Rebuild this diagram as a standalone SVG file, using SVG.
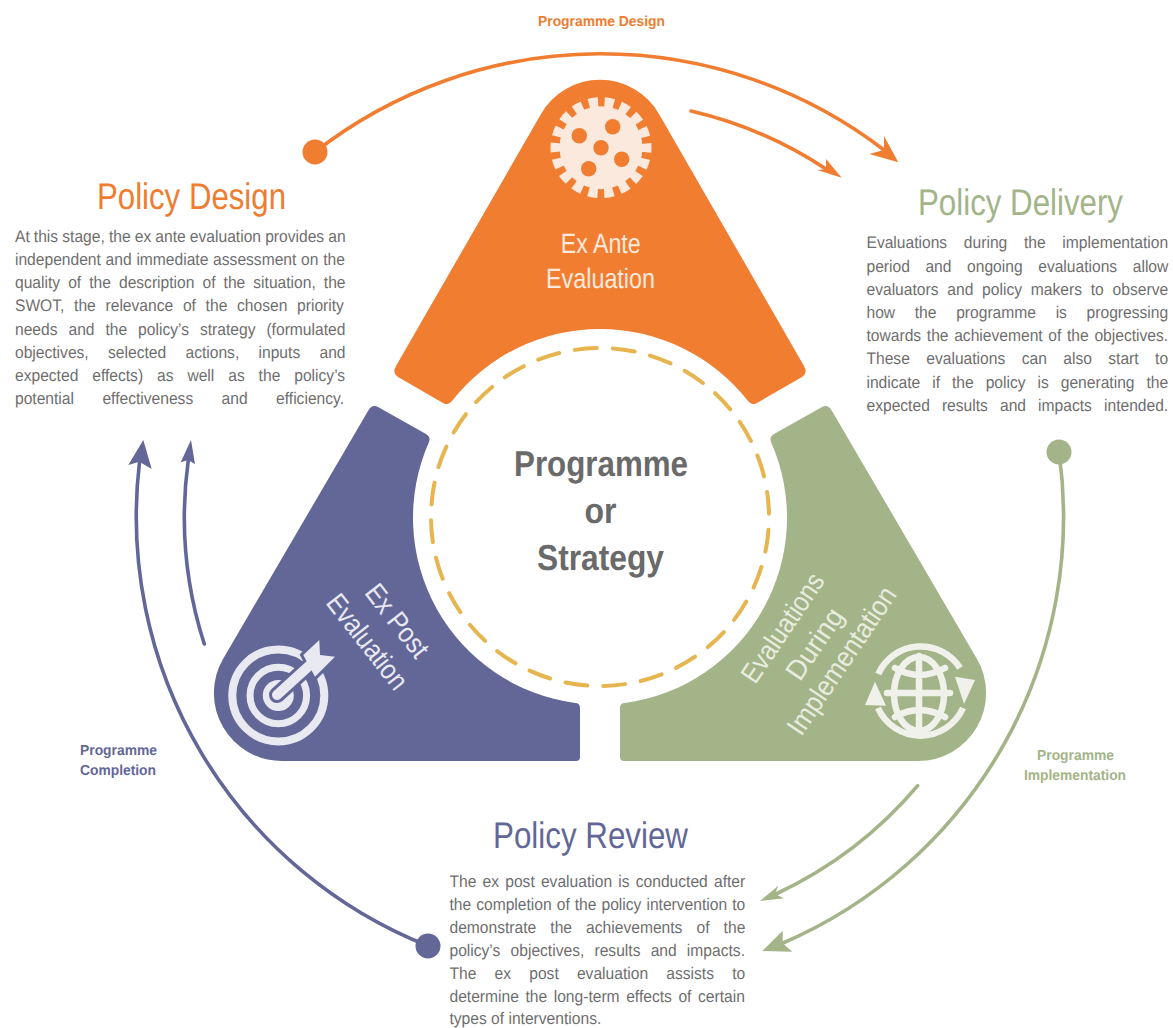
<svg xmlns="http://www.w3.org/2000/svg" width="1173" height="1028" viewBox="0 0 1173 1028">
<style>
text{font-family:"Liberation Sans",Arial,sans-serif;text-rendering:geometricPrecision}
.o{fill:#f17d31}.p{fill:#636798}.g{fill:#a3b488}
.so{stroke:#f17d31}.sp{stroke:#636798}.sg{stroke:#a3b488}
.l{fill:none;stroke-width:3.6;stroke-linecap:round}
.t{font-size:37px}
.b{font-size:16.8px;fill:#6e6e6e}
.c{font-size:36px;font-weight:bold;fill:#6a6a6a;text-anchor:middle}
.s{font-size:14.5px;font-weight:bold}
.n{font-size:28px;text-anchor:middle}
</style>
<rect width="1173" height="1028" fill="#fff"/>
<g id="connectors">
<path class="l so" d="M315 152A465 465 0 0 1 884 150"/>
<polygon class="o" points="898.3,162.3 884,136 884,150 869.3,154"/>
<path class="l so" d="M691 111A416 416 0 0 1 826 169"/>
<polygon class="o" points="841.7,177.7 826,159 826,169.3 817.3,170"/>
<circle class="o" cx="315" cy="152" r="12.5"/>
<path class="l sg" d="M1059 452A464 464 0 0 1 783 943"/>
<polygon class="g" points="762.3,951 782.7,930.7 782.7,943.3 792.3,951.7"/>
<path class="l sg" d="M917.7 785.7A416 416 0 0 1 776 894"/>
<polygon class="g" points="760,901 778.3,885.7 775,894 784,898.3"/>
<circle class="g" cx="1059" cy="452" r="12.5"/>
<path class="l sp" d="M428 946A462 462 0 0 1 139.5 462"/>
<polygon class="p" points="143.3,440 128.3,465 139.3,461.7 151.7,469"/>
<path class="l sp" d="M204.3 644A416 416 0 0 1 188.3 460"/>
<polygon class="p" points="191,440 180.7,462.3 188.3,460 195,464.3"/>
<circle class="p" cx="428" cy="946" r="12.5"/>
</g>
<g id="node-ex-ante">
<path class="o" d="M541 114L396 366Q392 373 398 377L443 403Q448 406 452 401A188 188 0 0 1 748 401Q752 406 757 403L802 377Q808 373 804 366L659 114A68 68 0 0 0 541 114Z"/>
<circle cx="601" cy="147.7" r="41.5" fill="#fbe9dd"/>
<circle cx="601" cy="147.7" r="45.5" fill="none" stroke="#fbe9dd" stroke-width="10" stroke-dasharray="9.3 6.58" stroke-dashoffset="4.65"/>
<g class="o"><circle cx="579.3" cy="135.7" r="7.7"/><circle cx="612.7" cy="126.7" r="7.7"/><circle cx="601" cy="147.7" r="7.7"/><circle cx="621.7" cy="159.3" r="7.7"/><circle cx="588.7" cy="168.7" r="7.7"/></g>
<text class="n" fill="#fbe9dd" x="600.7" y="253" textLength="80" lengthAdjust="spacingAndGlyphs">Ex Ante</text>
<text class="n" fill="#fbe9dd" x="600.5" y="288" textLength="109" lengthAdjust="spacingAndGlyphs">Evaluation</text>
</g>
<g id="node-ex-post">
<path class="p" d="M368 411Q372 404 378 407L426 434Q431 437 429 442A187 187 0 0 0 575 703Q580 703 580 708L580 757Q580 761 576 761L282 761A68 68 0 0 1 223 659Z"/>
<g fill="none" stroke="#e9e9f2"><circle cx="278.3" cy="695.5" r="46" stroke-width="8"/><circle cx="278.3" cy="695.5" r="28.3" stroke-width="7"/></g>
<circle cx="278.3" cy="695.5" r="15.5" fill="#e9e9f2"/>
<line x1="277" y1="695" x2="310" y2="665" stroke="#636798" stroke-width="16" stroke-linecap="round"/>
<polygon points="303.3,655 319.3,640 320,655 335,656.7 315,676.7" fill="#636798" stroke="#636798" stroke-width="6"/>
<line x1="277" y1="695" x2="310" y2="665" stroke="#e9e9f2" stroke-width="10" stroke-linecap="round"/>
<polygon points="303.3,655 319.3,640 320,655 335,656.7 315,676.7" fill="#e9e9f2"/>
<text class="n" fill="#e9e9f2" transform="translate(397 621) rotate(52)" y="9" textLength="85" lengthAdjust="spacingAndGlyphs">Ex Post</text>
<text class="n" fill="#e9e9f2" transform="translate(367 642) rotate(52)" y="9" textLength="113" lengthAdjust="spacingAndGlyphs">Evaluation</text>
</g>
<g id="node-during">
<path class="g" d="M832 411Q828 404 822 407L774 434Q769 437 771 442A187 187 0 0 1 625 703Q620 703 620 708L620 757Q620 761 624 761L918 761A68 68 0 0 0 977 659Z"/>
<g fill="none" stroke="#eff1ea" stroke-width="6.5" stroke-linecap="round">
<path d="M878.3 674A46.5 46.5 0 0 1 960 668" stroke-linecap="butt"/>
<path d="M963 708A46.5 46.5 0 0 1 878 708" stroke-linecap="butt"/>
<ellipse cx="919" cy="694" rx="25" ry="37"/>
<path d="M919 656V732M887 693H950M895 668Q919 682 945 668M895 717Q919 703 945 717"/>
</g>
<polygon fill="#eff1ea" points="955,676.7 975,680 964,704"/>
<polygon fill="#eff1ea" points="865,705 886,705.7 875,681.7"/>
<text class="n" fill="#e8ecdf" transform="translate(783 628) rotate(-56)" y="9" textLength="126" lengthAdjust="spacingAndGlyphs">Evaluations</text>
<text class="n" fill="#e8ecdf" transform="translate(815 644) rotate(-56)" y="9" textLength="80" lengthAdjust="spacingAndGlyphs">During</text>
<text class="n" fill="#e8ecdf" transform="translate(842 661) rotate(-56)" y="9" textLength="172" lengthAdjust="spacingAndGlyphs">Implementation</text>
</g>
<g id="node-centre">
<circle cx="600" cy="517" r="169" fill="none" stroke="#e6b550" stroke-width="4" stroke-linecap="round" stroke-dasharray="22 15.9" transform="rotate(-98.5 600 517)"/>
<text class="c" x="601" y="476" textLength="174" lengthAdjust="spacingAndGlyphs">Programme</text>
<text class="c" x="600.5" y="523" textLength="32" lengthAdjust="spacingAndGlyphs">or</text>
<text class="c" x="600.5" y="570" textLength="127" lengthAdjust="spacingAndGlyphs">Strategy</text>
</g>
<g id="label-programme-design"><text class="s" fill="#ed7d31" x="538" y="26" textLength="127" lengthAdjust="spacingAndGlyphs">Programme Design</text></g>
<g id="label-programme-completion">
<text class="s" fill="#636798" x="80" y="755" textLength="77" lengthAdjust="spacingAndGlyphs">Programme</text>
<text class="s" fill="#636798" x="80" y="775" textLength="76" lengthAdjust="spacingAndGlyphs">Completion</text>
</g>
<g id="label-programme-implementation">
<text class="s" fill="#a3b488" x="1037" y="760" textLength="77" lengthAdjust="spacingAndGlyphs">Programme</text>
<text class="s" fill="#a3b488" x="1024" y="780" textLength="102" lengthAdjust="spacingAndGlyphs">Implementation</text>
</g>
<g id="policy-design">
<text class="t" fill="#ed7d31" x="97" y="209" textLength="189" lengthAdjust="spacingAndGlyphs">Policy Design</text>
<g transform="scale(.93 1)">
<text class="b" x="16.1" y="241.7" word-spacing="-.22">At this stage, the ex ante evaluation provides an</text>
<text class="b" x="16.1" y="264.9" word-spacing=".42">independent and immediate assessment on the</text>
<text class="b" x="16.1" y="288.1" word-spacing="4">quality of the description of the situation, the</text>
<text class="b" x="16.1" y="311.3" word-spacing="5.78">SWOT, the relevance of the chosen priority</text>
<text class="b" x="16.1" y="334.5" word-spacing="7.12">needs and the policy’s strategy (formulated</text>
<text class="b" x="16.1" y="357.7" word-spacing="16.1">objectives, selected actions, inputs and</text>
<text class="b" x="16.1" y="380.9" word-spacing="10.3">expected effects) as well as the policy’s</text>
<text class="b" x="16.1" y="404.1" word-spacing="25.9">potential effectiveness and efficiency.</text>
</g>
</g>
<g id="policy-delivery">
<text class="t" fill="#a3b488" x="918" y="215" textLength="205" lengthAdjust="spacingAndGlyphs">Policy Delivery</text>
<g transform="scale(.93 1)">
<text class="b" x="931.7" y="248.3" word-spacing="13.3">Evaluations during the implementation</text>
<text class="b" x="931.7" y="271.5" word-spacing="12.1">period and ongoing evaluations allow</text>
<text class="b" x="931.7" y="294.7" word-spacing="4.8">evaluators and policy makers to observe</text>
<text class="b" x="931.7" y="317.9" word-spacing="16.5">how the programme is progressing</text>
<text class="b" x="931.7" y="341.1" word-spacing="1.44">towards the achievement of the objectives.</text>
<text class="b" x="931.7" y="364.3" word-spacing="13">These evaluations can also start to</text>
<text class="b" x="931.7" y="387.5" word-spacing="8.2">indicate if the policy is generating the</text>
<text class="b" x="931.7" y="410.7" word-spacing="8.35">expected results and impacts intended.</text>
</g>
</g>
<g id="policy-review">
<text class="t" fill="#636798" x="493" y="848" textLength="195" lengthAdjust="spacingAndGlyphs">Policy Review</text>
<g transform="scale(.93 1)">
<text class="b" x="483.3" y="887.3" word-spacing="2">The ex post evaluation is conducted after</text>
<text class="b" x="483.3" y="910.3" word-spacing=".75">the completion of the policy intervention to</text>
<text class="b" x="483.3" y="933.3" word-spacing="10.5">demonstrate the achievements of the</text>
<text class="b" x="483.3" y="956.3" word-spacing="6.3">policy’s objectives, results and impacts.</text>
<text class="b" x="483.3" y="979.3" word-spacing="14.9">The ex post evaluation assists to</text>
<text class="b" x="483.3" y="1002" word-spacing="2.4">determine the long-term effects of certain</text>
<text class="b" x="483.3" y="1024">types of interventions.</text>
</g>
</g>
</svg>
